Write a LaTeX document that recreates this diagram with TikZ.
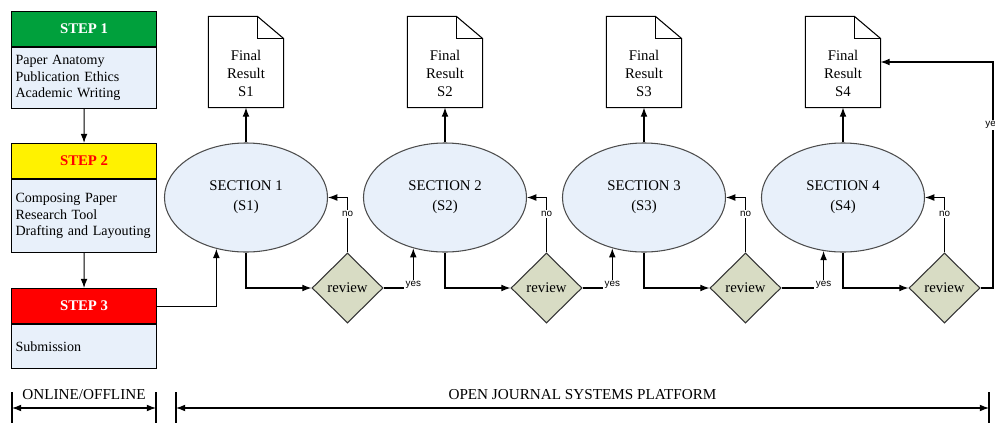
\documentclass[tikz,border=0pt]{standalone}
\usepackage{fontspec}
\setmainfont{Liberation Serif}
\newfontfamily\answerfont{Liberation Sans}
\usetikzlibrary{shapes.geometric, arrows.meta}

\definecolor{stepgreen}{RGB}{0,160,60}
\definecolor{bodyblue}{RGB}{232,240,250}
\definecolor{reviewgray}{RGB}{216,220,196}

% page outline with a folded corner round a result node
\newcommand{\docoutline}[1]{%
  \draw (#1.south west) -- (#1.north west) -- ([xshift=-0.65cm]#1.north east)
    -- ([yshift=-0.55cm]#1.north east) -- (#1.south east) -- cycle;
  \draw ([xshift=-0.65cm]#1.north east) |- ([yshift=-0.55cm]#1.north east);
}

\begin{document}
\begin{tikzpicture}[x=0.025cm, y=-0.025cm, line width=0.75pt,
  >={Latex[length=2.3mm, width=1.7mm]},
  stephead/.style={draw, anchor=north west, minimum width=3.625cm, minimum height=0.875cm,
    inner sep=0pt, font=\bfseries\fontsize{10.5}{12}\selectfont},
  stepbody/.style={draw, fill=bodyblue, anchor=north west, text width=3.425cm,
    inner xsep=0.1cm, inner ysep=0pt, align=left, font=\fontsize{10}{11.8}\selectfont},
  sectionnode/.style={draw=black!70, fill=bodyblue, ellipse, minimum width=4.075cm,
    minimum height=2.725cm, inner sep=0pt, align=center, font=\fontsize{10.5}{14.2}\selectfont},
  resultdoc/.style={minimum width=1.85cm, minimum height=2.25cm, inner sep=0pt},
  doctext/.style={align=center, inner sep=0pt, font=\fontsize{10.5}{13.1}\selectfont},
  reviewnode/.style={draw=black!80, fill=reviewgray, diamond, minimum width=1.775cm,
    minimum height=1.75cm, inner sep=0pt, font=\fontsize{10.5}{12}\selectfont},
  answer/.style={fill=white, inner sep=1pt, font=\answerfont\fontsize{7}{8}\selectfont},
  span/.style={font=\fontsize{10.8}{12}\selectfont},
]

\useasboundingbox (0,0) rectangle (995,422);

% steps on the left
\node[stephead, fill=stepgreen, text=white] (step1) at (11,11) {STEP 1};
\node[stepbody, minimum height=1.525cm] (step1body) at (step1.south west)
  {Paper Anatomy\\Publication Ethics\\Academic Writing};

\node[stephead, fill=yellow, text=red] (step2) at (11,143) {STEP 2};
\node[stepbody, minimum height=1.825cm] (step2body) at (step2.south west)
  {Composing Paper\\Research Tool\\Drafting and Layouting};

\node[stephead, fill=red, text=white] (step3) at (11,288) {STEP 3};
\node[stepbody, minimum height=1.1cm] (step3body) at (step3.south west) {Submission};

\draw[->] (step1body.south) -- (step2.north);
\draw[->] (step2body.south) -- (step3.north);

% section 1
\def\x{0}
\node[resultdoc] (r1) at (\x + 246, 62) {};
\docoutline{r1}
\node[doctext] (r1text) at (\x + 246, 73.5) {Final\\Result\\S1};
\node[sectionnode] (s1) at (\x + 246, 197.5) {SECTION 1\\(S1)};
\node[reviewnode] (d1) at (\x + 347.5, 288) {review};

\draw[->] (s1.north) -- (r1.south);
\draw[->] (s1.south) |- (d1.west);
\draw[->] (d1.north) |- (s1.east) node[answer, pos=0.35] {no};
\draw[->] (step3.east) -| (s1.240);

% section 2
\def\x{199}
\node[resultdoc] (r2) at (\x + 246, 62) {};
\docoutline{r2}
\node[doctext] (r2text) at (\x + 246, 73.5) {Final\\Result\\S2};
\node[sectionnode] (s2) at (\x + 246, 197.5) {SECTION 2\\(S2)};
\node[reviewnode] (d2) at (\x + 347.5, 288) {review};

\draw[->] (s2.north) -- (r2.south);
\draw[->] (s2.south) |- (d2.west);
\draw[->] (d2.north) |- (s2.east) node[answer, pos=0.35] {no};
\draw[->] (d1.east) -| (s2.238) node[answer, pos=0.5, yshift=0.075cm] {yes};

% section 3
\def\x{398}
\node[resultdoc] (r3) at (\x + 246, 62) {};
\docoutline{r3}
\node[doctext] (r3text) at (\x + 246, 73.5) {Final\\Result\\S3};
\node[sectionnode] (s3) at (\x + 246, 197.5) {SECTION 3\\(S3)};
\node[reviewnode] (d3) at (\x + 347.5, 288) {review};

\draw[->] (s3.north) -- (r3.south);
\draw[->] (s3.south) |- (d3.west);
\draw[->] (d3.north) |- (s3.east) node[answer, pos=0.35] {no};
\draw[->] (d2.east) -| (s3.238) node[answer, pos=0.5, yshift=0.075cm] {yes};

% section 4
\def\x{597}
\node[resultdoc] (r4) at (\x + 246, 62) {};
\docoutline{r4}
\node[doctext] (r4text) at (\x + 246, 73.5) {Final\\Result\\S4};
\node[sectionnode] (s4) at (\x + 246, 197.5) {SECTION 4\\(S4)};
\node[reviewnode] (d4) at (\x + 347.5, 288) {review};

\draw[->] (s4.north) -- (r4.south);
\draw[->] (s4.south) |- (d4.west);
\draw[->] (d4.north) |- (s4.east) node[answer, pos=0.35] {no};
\draw[->] (d3.east) -| (s4.250) node[answer, pos=0.5, yshift=0.075cm] {yes};

% last review goes back to the final result
\coordinate (rim) at (993, 62);
\draw[->] (d4.east) -| (rim) node[answer, pos=0.86] {yes} -- (r4.east);

% spans along the bottom
\coordinate (offL) at (12,408);
\coordinate (offR) at (156,408);
\coordinate (ojsL) at (176,408);
\coordinate (ojsR) at (989,408);

\draw ([yshift=0.4cm]offL) -- ([yshift=-0.4cm]offL);
\draw ([yshift=0.4cm]offR) -- ([yshift=-0.4cm]offR);
\draw ([yshift=0.4cm]ojsL) -- ([yshift=-0.4cm]ojsL);
\draw ([yshift=0.4cm]ojsR) -- ([yshift=-0.4cm]ojsR);

\draw[<->] (offL) -- (offR) node[span, midway, yshift=0.325cm] {ONLINE/OFFLINE};
\draw[<->] (ojsL) -- (ojsR) node[span, midway, yshift=0.325cm] {OPEN JOURNAL SYSTEMS PLATFORM};

\end{tikzpicture}
\end{document}
